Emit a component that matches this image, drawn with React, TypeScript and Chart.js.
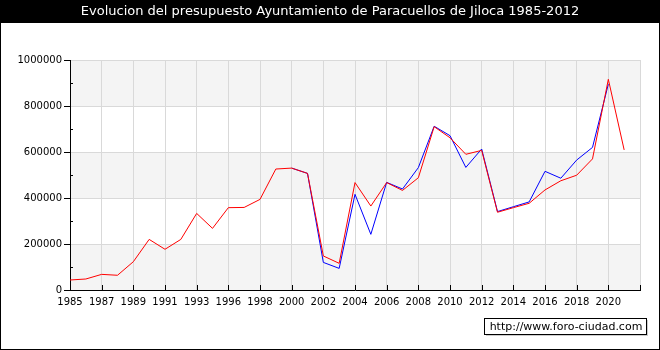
import React, { useEffect, useRef } from 'react';
import { Chart, registerables } from 'chart.js';
Chart.register(...registerables);

const TITLE = 'Evolucion del presupuesto Ayuntamiento de Paracuellos de Jiloca 1985-2012';
const WATERMARK = 'http://www.foro-ciudad.com';

const years = [
  '1985', '1986', '1987', '1988', '1989', '1990', '1991', '1992', '1993', '1994',
  '1996', '1997', '1998', '1999', '2000', '2001', '2002', '2003', '2004', '2005',
  '2006', '2007', '2008', '2009', '2010', '2011', '2012', '2013', '2014', '2015',
  '2016', '2017', '2018', '2019', '2020', '2021', '2022',
];

const redSeries = [
  43500, 47800, 68000, 64000, 123000, 220000, 177000, 220000, 333000, 268000,
  358000, 359000, 394000, 526000, 530000, 507000, 148000, 116000, 467000, 365000,
  467000, 433000, 488000, 710000, 662000, 590000, 607000, 338000, 358000, 377000,
  435000, 475000, 499000, 570000, 916000, 609000, null,
];

const blueSeries = [
  null, null, null, null, null, null, null, null, null, null,
  null, null, null, null, 530000, 507000, 120000, 94000, 416000, 242000,
  468000, 439000, 532000, 712000, 671000, 533000, 613000, 341000, 362000, 383000,
  516000, 486000, 565000, 620000, 895000, null, null,
];

const yMax = 1000000;
const yMajor = 200000;
const yMinor = 100000;

const GRID = '#d9d9d9';
const BAND = '#f4f4f4';
const FONT = 'DejaVu Sans';

const decorPlugin = {
  id: 'decor',
  beforeDraw(chart: any) {
    const { ctx, chartArea, scales } = chart;
    const y = scales.y;
    ctx.save();
    ctx.fillStyle = '#ffffff';
    ctx.fillRect(0, 0, chart.width, chart.height);
    ctx.fillStyle = '#000000';
    ctx.fillRect(0, 0, chart.width, 23);
    let k = 0;
    for (let v = 0; v < yMax; v += yMajor, k++) {
      if (k % 2 === 0) {
        const top = y.getPixelForValue(v + yMajor);
        const bot = y.getPixelForValue(v);
        ctx.fillStyle = BAND;
        ctx.fillRect(chartArea.left, top, chartArea.right - chartArea.left, bot - top);
      }
    }
    ctx.restore();
  },
  afterDraw(chart: any) {
    const { ctx, chartArea, scales } = chart;
    const x = scales.x;
    const y = scales.y;
    ctx.save();
    ctx.strokeStyle = '#000000';
    ctx.lineWidth = 1;
    for (let v = 0; v <= yMax; v += yMinor) {
      const py = Math.round(y.getPixelForValue(v)) + 0.5;
      ctx.beginPath();
      if (v % yMajor === 0) {
        ctx.moveTo(chartArea.left - 6, py);
        ctx.lineTo(chartArea.left, py);
      } else {
        ctx.moveTo(chartArea.left, py);
        ctx.lineTo(chartArea.left + 3, py);
      }
      ctx.stroke();
    }
    for (let i = 0; i < years.length; i += 2) {
      const px = Math.round(x.getPixelForValue(i)) + 0.5;
      ctx.beginPath();
      ctx.moveTo(px, chartArea.bottom);
      ctx.lineTo(px, chartArea.bottom - 5);
      ctx.stroke();
    }
    ctx.strokeRect(0.5, 0.5, chart.width - 1, chart.height - 1);
    ctx.fillStyle = '#ffffff';
    ctx.font = `13px "${FONT}"`;
    ctx.textAlign = 'center';
    ctx.textBaseline = 'middle';
    ctx.fillText(TITLE, chart.width / 2, 12);
    ctx.font = `11px "${FONT}"`;
    const bx = 484, by = 318, bw = 162, bh = 16;
    ctx.fillStyle = '#cccccc';
    ctx.fillRect(bx + 2, by + 2, bw, bh);
    ctx.fillStyle = '#ffffff';
    ctx.fillRect(bx, by, bw, bh);
    ctx.strokeStyle = '#000000';
    ctx.strokeRect(bx + 0.5, by + 0.5, bw, bh);
    ctx.fillStyle = '#000000';
    ctx.textAlign = 'center';
    ctx.fillText(WATERMARK, bx + bw / 2 + 1, by + bh / 2 + 1);
    ctx.restore();
  },
};

export default function App() {
  const ref = useRef<HTMLCanvasElement>(null);
  useEffect(() => {
    document.body.style.margin = '0';
    const canvas = ref.current!;
    const chart = new Chart(canvas, {
      type: 'line',
      data: {
        labels: years,
        datasets: [
          { data: redSeries, borderColor: '#ff0000', borderWidth: 1, pointRadius: 0, tension: 0, spanGaps: false },
          { data: blueSeries, borderColor: '#0000ff', borderWidth: 1, pointRadius: 0, tension: 0, spanGaps: false },
        ],
      },
      options: {
        animation: false,
        responsive: false,
        events: [],
        layout: { padding: { left: 0, right: 20, top: 60, bottom: 40 } },
        plugins: { legend: { display: false }, title: { display: false }, tooltip: { enabled: false } },
        scales: {
          x: {
            type: 'category',
            offset: false,
            afterFit(scale: any) { scale.height = 20; },
            grid: {
              drawTicks: false,
              color: (ctx: any) => (ctx.index % 2 === 0 ? GRID : 'rgba(0,0,0,0)'),
            },
            border: { color: '#000000', width: 1 },
            ticks: {
              autoSkip: false,
              maxRotation: 0,
              padding: 6,
              color: '#000000',
              font: { family: FONT, size: 10 },
              callback: (_v: any, i: number) => (i % 2 === 0 && i < years.length - 1 ? years[i] : ''),
            },
          },
          y: {
            min: 0,
            max: yMax,
            afterFit(scale: any) { scale.width = 70; },
            grid: {
              drawTicks: false,
              color: (ctx: any) => (ctx.tick && ctx.tick.value % yMajor === 0 ? GRID : 'rgba(0,0,0,0)'),
            },
            border: { color: '#000000', width: 1 },
            ticks: {
              stepSize: yMinor,
              padding: 8,
              color: '#000000',
              font: { family: FONT, size: 10 },
              callback: (v: any) => (v % yMajor === 0 ? String(v) : ''),
            },
          },
        },
      },
      plugins: [decorPlugin],
    });
    return () => chart.destroy();
  }, []);
  return <canvas ref={ref} width={660} height={350} style={{ display: 'block' }} />;
}
